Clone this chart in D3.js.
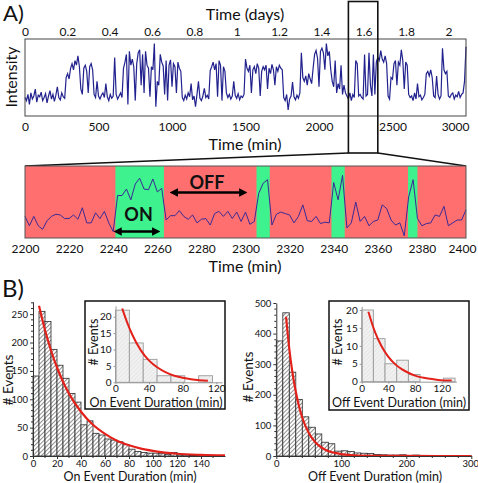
<!DOCTYPE html>
<html><head><meta charset="utf-8">
<script src="https://cdn.jsdelivr.net/npm/d3@7"></script>
<style>
body{margin:0;background:#fff}
svg{display:block}
text{font-family:Lato,"Open Sans",sans-serif;fill:#111}
</style>
</head><body>
<svg id="c" width="478" height="483"></svg>
<script>
// ---------------- DATA ----------------
// Panel A top: intensity trace, one sample every 10 min from 0 to 3000 min
const traceStep = 10;
const traceValues = [
 24,20,28,15,30,22,26,35,18,27,25,31,20,24,29,17,26,33,22,28,19,27,38,24,21,30,25,23,
 50,55,48,62,68,60, 72,66,78,64, 35,28, 62,66,58,30, 64,68,60, 28,24,45,26,
 22,27,30,24,42,25,20,28,23,26, 76, 28,22,26,30,24,
 62,70,80,15,84,66,74, 64,20,68, 82,86,40,80,30,84, 66,62,25,64,60,
 94, 12, 45,40, 80, 70,65,28,72,20,66, 73,38,68,64,30,70,62,58,
 24,20,27,22,30,25,42,21,26,12,28,45,23,20,26,36,24,27,22,
 59,64,70,60,68,25,72,66,20,64,58,
 30,24,28,22,26,45,27,23,29,21,26,24,28, 74,
 62,58,66,30,60,64,55,68,62,26,58,64,60,66,35,62,55,67,60,40,64,58,66,62,60,
 24,20,28,8,22,26,44,25,21,27,23, 30,82,50, 45,52,40,55,48,42,
 62,80,85,75,38,84,88,82,60,94,78,84, 60,45,38,72,30,42,35,66,28,40,30,
 26,22,30,20,28,24,72,68,26,28,24,22,80,26,28,82,40,26,80,28,
 70,76,72,85,74,70,78,68, 26,22, 50,48, 68,72,40,70,66,86,72,35,70,66,
 28,24,26,20,30,22,42,25,27,21,24,28, 55,58,52,60,50, 26,24,52,28,22,26,
 88, 60,55,58, 26,24,28,30,22,27,25,32,24,28,30, 45,90
];
const minTicks = [0,500,1000,1500,2000,2500,3000];
const dayTicks = [0,0.2,0.4,0.6,0.8,1,1.2,1.4,1.6,1.8,2];

// Panel A zoom: 2200-2400 min, one sample every 2 min
const zoomStart = 2200, zoomEnd = 2400, zoomStep = 2;
const zoomValues = [
 30,17,30,17,12,24,30,33,32,27,27,32,26,42,21,21,35,27,37,21,
 9,59,59,68,53,75,83,68,67,82,64,69,25,31,31,38,30,26,32,21,
 26,27,18,34,37,30,37,27,36,23,36,19,23,62,76,81,18,33,36,34,
 32,21,30,46,24,23,30,20,22,21,77,53,87,14,21,50,23,30,17,23,
 25,46,41,25,18,21,3,57,81,27,17,20,21,32,30,44,17,21,25,25,39
];
const onStarts = [2241,2305,2339,2373.7];
const onEnds   = [2263,2311,2345,2378];
const zoomTicks = [2200,2220,2240,2260,2280,2300,2320,2340,2360,2380,2400];

// Panel B: histograms
const onBinWidth = 5;
const onCounts = [141,255,237,188,160,137,110,95,55,62,40,37,30,28,25,20,12,8,6,5,5,4,3,6,2,2,1,1,1,1];
const onFitX = [5,10,15,20,25,30,40,50,60,70,80,90,100,110,120,140,160];
const onFitY = [265,222,186,156,131,110,78,55,39,27,19,13,9,6,4,2,1];
const offBinWidth = 10;
const offCounts = [376,468,274,185,128,94,72,45,40,16,17,15,10,9,8,5,4,3,3,4,2,3,2,1,1,2,1,1,1,1];
const offFitX = [15,20,25,30,35,40,50,60,70,80,90,100,120,150,200,300];
const offFitY = [455,350,270,210,162,125,75,45,27,16,10,6,2,0.6,0.1,0];

const onInsetBinWidth = 16.5;
const onInsetCounts = [22,12,7,2,2,0,2];
const onInsetFitX = [8,15,20,30,40,50,60,70,80,90,100,110];
const onInsetFitY = [22.5,17.5,14.5,9.8,6.6,4.5,3.0,2.0,1.4,0.95,0.65,0.45];
const offInsetBinWidth = 17.5;
const offInsetCounts = [20,12,5,6,2,0,0,1];
const offInsetFitX = [10,20,30,40,50,60,70,80,90,100,115,135];
const offInsetFitY = [19.5,13.8,9.8,6.9,4.9,3.5,2.5,1.7,1.2,0.9,0.5,0.3];

// ---------------- DRAW ----------------
const svg = d3.select("#c");
svg.append("rect").attr("width",478).attr("height",483).attr("fill","#fff");
const defs = svg.append("defs");
function hatch(id, bg, fg, w, sp){
  const p = defs.append("pattern").attr("id",id).attr("patternUnits","userSpaceOnUse")
    .attr("width",sp).attr("height",sp).attr("patternTransform","rotate(45)");
  p.append("rect").attr("width",sp).attr("height",sp).attr("fill",bg);
  p.append("line").attr("x1",0).attr("y1",0).attr("x2",0).attr("y2",sp).attr("stroke",fg).attr("stroke-width",w);
}
hatch("hMain","#fff","#333",1.1,3.0);
hatch("hInset","#f1f1f1","#d6d6d6",0.8,3);
const mk = defs.append("marker").attr("id","ah").attr("viewBox","0 0 10 10").attr("refX",5).attr("refY",5)
  .attr("markerWidth",3.2).attr("markerHeight",3.2).attr("orient","auto-start-reverse");
mk.append("path").attr("d","M0,0 L10,5 L0,10 z").attr("fill","#000");

function label(x,y,t,size,opts={}){
  const el = svg.append("text").attr("x",x).attr("y",y).text(t)
    .attr("font-size",size).attr("text-anchor",opts.anchor||"middle")
    .attr("dominant-baseline","central");
  if(opts.bold) el.attr("font-weight","bold");
  if(opts.rot) el.attr("transform",`rotate(-90,${x},${y})`);
  return el;
}

// ---- Panel A top ----
const xMin = d3.scaleLinear().domain([0,3000]).range([25,466]);
const xDays = d3.scaleLinear().domain([0,3000/1440]).range([25,466]);
const yInt = d3.scaleLinear().domain([0,100]).range([116,39]);

svg.append("path").datum(traceValues)
  .attr("d", d3.line().x((d,i)=>xMin(i*traceStep)).y(d=>yInt(d)))
  .attr("fill","none").attr("stroke","#22228f").attr("stroke-width",1.2);
svg.append("rect").attr("x",25).attr("y",39).attr("width",441).attr("height",77)
  .attr("fill","none").attr("stroke","#444").attr("stroke-width",1);

const axB = svg.append("g").attr("transform","translate(0,116)")
  .call(d3.axisBottom(xMin).tickValues(minTicks).tickSize(0).tickPadding(6).tickFormat(d3.format("d")));
const axT = svg.append("g").attr("transform","translate(0,39)")
  .call(d3.axisTop(xDays).tickValues(dayTicks).tickSize(0).tickPadding(3).tickFormat(d=>String(+d.toFixed(1))));
[axB,axT].forEach(a=>{a.select(".domain").remove(); a.selectAll("text").attr("font-size",12).attr("font-family","Lato").attr("fill","#111");});
axB.selectAll(".tick").filter(d=>d===3000).select("text").attr("text-anchor","end").attr("x",3);

label(245,13,"Time (days)",16);
label(245,143,"Time (min)",16);
label(10,77,"Intensity",16,{rot:true});
label(3,12,"A)",22,{anchor:"start"});

// highlight box and connectors
svg.append("rect").attr("x",xMin(zoomStart)).attr("y",1.5)
  .attr("width",xMin(zoomEnd)-xMin(zoomStart)).attr("height",151.5)
  .attr("fill","none").attr("stroke","#111").attr("stroke-width",1.6);
svg.append("line").attr("x1",xMin(zoomStart)).attr("y1",153).attr("x2",25).attr("y2",166)
  .attr("stroke","#111").attr("stroke-width",1.3);
svg.append("line").attr("x1",xMin(zoomEnd)).attr("y1",153).attr("x2",466).attr("y2",166)
  .attr("stroke","#111").attr("stroke-width",1.3);

// ---- Panel A zoom ----
const xZ = d3.scaleLinear().domain([zoomStart,zoomEnd]).range([25,466]);
const yZ = d3.scaleLinear().domain([0,100]).range([238,166]);
svg.append("rect").attr("x",25).attr("y",166).attr("width",441).attr("height",72).attr("fill","#ff6f6f");
svg.selectAll(".on").data(onStarts).enter().append("rect")
  .attr("x",d=>xZ(d)).attr("y",166).attr("width",(d,i)=>xZ(onEnds[i])-xZ(d)).attr("height",72)
  .attr("fill","#3ef28e");
svg.append("path").datum(zoomValues)
  .attr("d", d3.line().x((d,i)=>xZ(zoomStart+i*zoomStep)).y(d=>yZ(d)))
  .attr("fill","none").attr("stroke","#3a2a95").attr("stroke-width",1);
svg.append("rect").attr("x",25).attr("y",166).attr("width",441).attr("height",72)
  .attr("fill","none").attr("stroke","#555").attr("stroke-width",1);
const axZ = svg.append("g").attr("transform","translate(0,238)")
  .call(d3.axisBottom(xZ).tickValues(zoomTicks).tickSize(0).tickPadding(6).tickFormat(d3.format("d")));
axZ.select(".domain").remove();
axZ.selectAll("text").attr("font-size",12).attr("font-family","Lato").attr("fill","#111");
axZ.selectAll(".tick").filter(d=>d===2400).select("text").attr("x",-4);
label(245,265,"Time (min)",16);

// annotations
const arrow = (t1,t2,y)=> svg.append("line").attr("x1",xZ(t1)).attr("x2",xZ(t2)).attr("y1",y).attr("y2",y)
  .attr("stroke","#000").attr("stroke-width",2.6)
  .attr("marker-start","url(#ah)").attr("marker-end","url(#ah)");
arrow(2242,2259.5,231.5);
arrow(2267.5,2299,192.5);
label(xZ(2251.5),213.5,"ON",18,{bold:true});
label(xZ(2282.5),182,"OFF",18,{bold:true});

// ---- Panel B ----
label(2,287,"B)",24,{anchor:"start"});

function drawAxisStyle(g){
  g.selectAll("path,line").attr("stroke","#333");
  g.selectAll("text").attr("font-size",9.5).attr("font-family","Lato").attr("fill","#111");
}
function minor(g, scale, vals, orient, size){
  vals.forEach(v=>{
    if(orient==="left") g.append("line").attr("x1",-size).attr("x2",0).attr("y1",scale(v)).attr("y2",scale(v)).attr("stroke","#333");
    else g.append("line").attr("y1",0).attr("y2",size).attr("x1",scale(v)).attr("x2",scale(v)).attr("stroke","#333");
  });
}
function mainHist(cfg){
  const {x,y,counts,bw,fitX,fitY,xTicks,yTicks,xMinor,yMinor} = cfg;
  svg.append("g").selectAll("rect").data(counts).enter().append("rect")
    .attr("x",(d,i)=>x(i*bw)).attr("y",d=>y(d)).attr("width",(d,i)=>x((i+1)*bw)-x(i*bw))
    .attr("height",d=>y(0)-y(d)).attr("fill","url(#hMain)").attr("stroke","#2a2a2a").attr("stroke-width",0.8);
  svg.append("path").datum(fitX.map((v,i)=>[v,fitY[i]]))
    .attr("d",d3.line().curve(d3.curveMonotoneX).x(d=>x(d[0])).y(d=>y(d[1])))
    .attr("fill","none").attr("stroke","#e3211b").attr("stroke-width",2.2);
  const gx = svg.append("g").attr("transform",`translate(0,${y(0)})`)
    .call(d3.axisBottom(x).tickValues(xTicks).tickSize(3).tickPadding(1).tickSizeOuter(0));
  minor(gx,x,xMinor,"bottom",2);
  const gy = svg.append("g").attr("transform",`translate(${x(0)},0)`)
    .call(d3.axisLeft(y).tickValues(yTicks).tickSize(3).tickPadding(2).tickSizeOuter(0));
  minor(gy,y,yMinor,"left",2);
  drawAxisStyle(gx); drawAxisStyle(gy);
  return gx;
}
function insetHist(cfg){
  const {box,x,y,counts,bw,fitX,fitY,xTicks,yTicks} = cfg;
  svg.append("rect").attr("x",box[0]).attr("y",box[1]).attr("width",box[2]).attr("height",box[3])
    .attr("fill","#fff").attr("stroke","#111").attr("stroke-width",1.5);
  svg.append("g").selectAll("rect").data(counts).enter().append("rect")
    .attr("x",(d,i)=>x(i*bw)).attr("y",d=>y(d)).attr("width",(d,i)=>x((i+1)*bw)-x(i*bw))
    .attr("height",d=>y(0)-y(d)).attr("fill","url(#hInset)").attr("stroke","#9a9a9a").attr("stroke-width",0.9);
  svg.append("path").datum(fitX.map((v,i)=>[v,fitY[i]]))
    .attr("d",d3.line().curve(d3.curveMonotoneX).x(d=>x(d[0])).y(d=>y(d[1])))
    .attr("fill","none").attr("stroke","#e3211b").attr("stroke-width",2);
  const gx = svg.append("g").attr("transform",`translate(0,${y(0)})`)
    .call(d3.axisBottom(x).tickValues(xTicks).tickSize(2).tickPadding(1).tickSizeOuter(0));
  const gy = svg.append("g").attr("transform",`translate(${x(0)},0)`)
    .call(d3.axisLeft(y).tickValues(yTicks).tickSize(2).tickPadding(2).tickSizeOuter(0));
  [gx,gy].forEach(g=>{
    g.selectAll("path,line").attr("stroke","#999");
    g.selectAll("text").attr("font-size",10).attr("font-family","Lato").attr("fill","#111");
  });
}

// left main
const xOn = d3.scaleLinear().domain([0,160]).range([33,225]);
const yOn = d3.scaleLinear().domain([0,272]).range([456,301.7]);
mainHist({x:xOn,y:yOn,counts:onCounts,bw:onBinWidth,fitX:onFitX,fitY:onFitY,
  xTicks:d3.range(0,141,20),yTicks:d3.range(0,251,50),
  xMinor:d3.range(10,160,20),yMinor:d3.range(10,271,10).filter(v=>v%50)});
label(8,380,"# Events",13.5,{rot:true});
label(130,476.5,"On Event Duration (min)",12.5);

// right main
const xOff = d3.scaleLinear().domain([0,300]).range([276.3,471.3]);
const yOff = d3.scaleLinear().domain([0,500]).range([456,303]);
const gxOff = mainHist({x:xOff,y:yOff,counts:offCounts,bw:offBinWidth,fitX:offFitX,fitY:offFitY,
  xTicks:[0,100,200,300],yTicks:d3.range(0,501,100),
  xMinor:d3.range(20,300,20).filter(v=>v%100),yMinor:d3.range(20,500,20).filter(v=>v%100)});
gxOff.selectAll(".tick").filter(d=>d===300).select("text").attr("x",-1);
label(248,377,"# Events",13.5,{rot:true});
label(375,476.5,"Off Event Duration (min)",12.5);

// insets
insetHist({box:[85,301,140,108],
  x:d3.scaleLinear().domain([0,127]).range([115.5,222.2]),
  y:d3.scaleLinear().domain([0,23.3]).range([382.3,305.9]),
  counts:onInsetCounts,bw:onInsetBinWidth,fitX:onInsetFitX,fitY:onInsetFitY,
  xTicks:[0,40,80,120],yTicks:[0,5,10,15,20]});
label(93,342,"# Events",12.5,{rot:true});
label(156,402,"On Event Duration (min)",12.5);

insetHist({box:[329,301,140,109],
  x:d3.scaleLinear().domain([0,142]).range([361.7,456.4]),
  y:d3.scaleLinear().domain([0,21]).range([381.7,306.4]),
  counts:offInsetCounts,bw:offInsetBinWidth,fitX:offInsetFitX,fitY:offInsetFitY,
  xTicks:[0,40,80,120],yTicks:[0,5,10,15,20]});
label(337,342,"# Events",12.5,{rot:true});
label(399,402,"Off Event Duration (min)",12.5);
</script>
</body></html>
